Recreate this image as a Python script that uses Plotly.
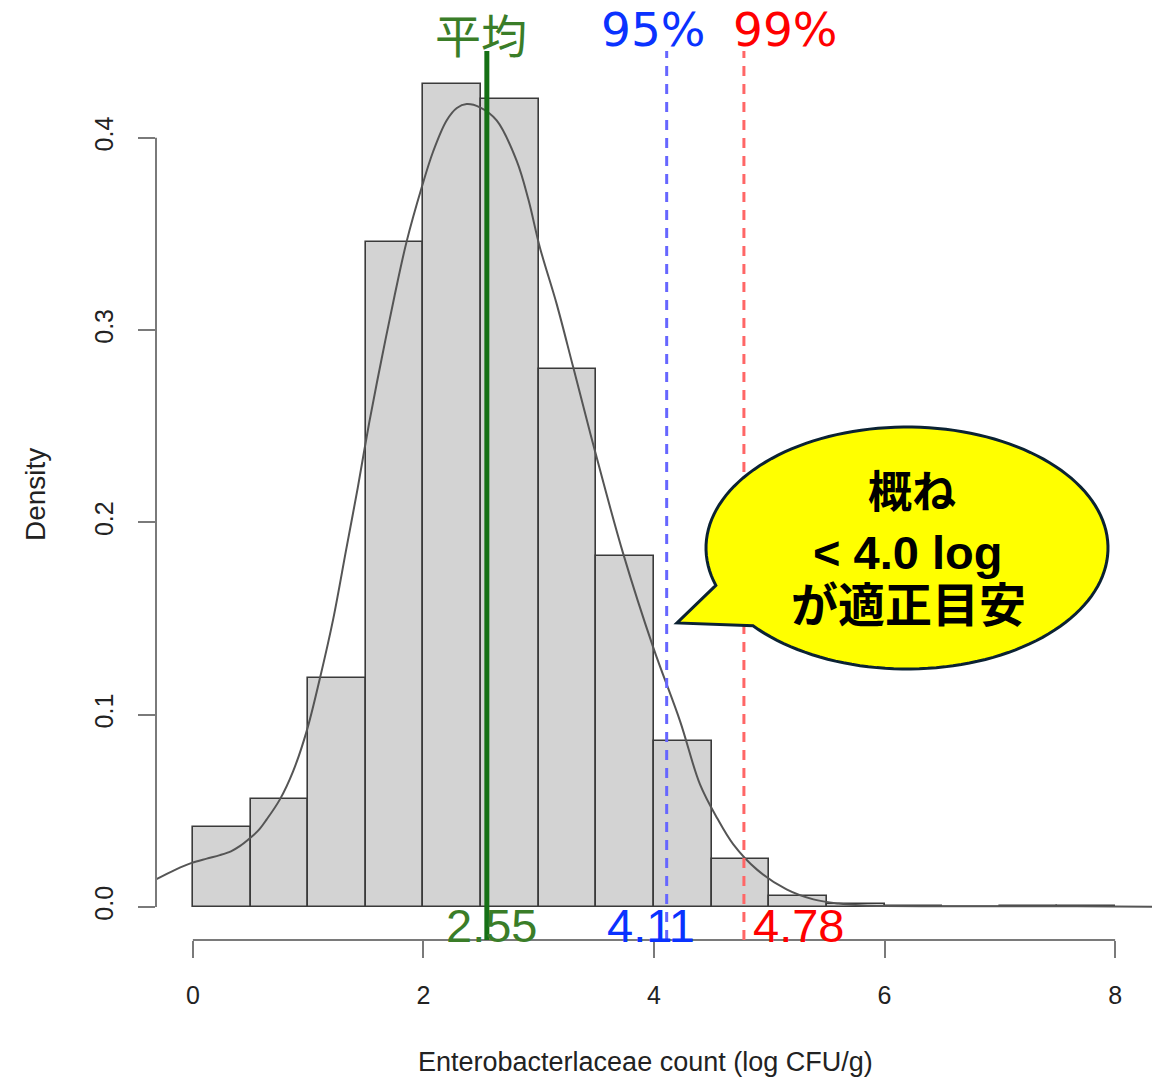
import numpy as np
import plotly.graph_objects as go

# Histogram of Enterobacteriaceae counts (density scale, 0.5 log-wide bins)
bin_edges = [0.0, 0.5, 1.0, 1.5, 2.0, 2.5, 3.0, 3.5, 4.0, 4.5, 5.0, 5.5, 6.0, 6.5, 7.0, 7.5, 8.0]
bin_density = [0.0416, 0.0562, 0.119, 0.346, 0.428, 0.420, 0.280, 0.1826,
               0.0863, 0.025, 0.0057, 0.0017, 0.0006, 0.0003, 0.0005, 0.0005]

# Kernel density estimate overlay
kde_x = [-0.32, -0.15, -0.01, 0.12, 0.234, 0.33, 0.41, 0.494, 0.57, 0.639, 0.755, 0.87, 0.987,
         1.102, 1.218, 1.33, 1.43, 1.53, 1.637, 1.75, 1.854, 1.984, 2.085, 2.201, 2.29, 2.375,
         2.49, 2.635, 2.809, 2.91, 3.01, 3.156, 3.30, 3.503, 3.734, 3.994, 4.226, 4.399,
         4.55, 4.688, 4.891, 5.15, 5.383, 5.6, 5.817, 6.0, 6.5, 7.0, 7.5, 8.0, 8.32]
kde_y = [0.0144, 0.0195, 0.023, 0.0252, 0.027, 0.0290, 0.0318, 0.0358, 0.0400, 0.0455, 0.056,
         0.0707, 0.0915, 0.119, 0.150, 0.186, 0.218, 0.252, 0.285, 0.318, 0.346, 0.374, 0.393,
         0.409, 0.4155, 0.4175, 0.4158, 0.409, 0.388, 0.368, 0.343, 0.3135, 0.2805, 0.2337,
         0.1835, 0.1349, 0.0967, 0.0638, 0.046, 0.0326, 0.0196, 0.0092, 0.0040, 0.0018,
         0.0008, 0.0005, 0.0004, 0.0004, 0.0004, 0.0003, 0.0002]

# Reference values
mean_value = 2.55
p95_value = 4.11
p99_value = 4.78

x_ticks = [0, 2, 4, 6, 8]
y_ticks = [0.0, 0.1, 0.2, 0.3, 0.4]
y_tick_text = ["0.0", "0.1", "0.2", "0.3", "0.4"]

edges = np.array(bin_edges)
bin_mid = (edges[:-1] + edges[1:]) / 2
bin_w = edges[1:] - edges[:-1]

W, H = 1165, 1081
ML, MR, MT, MB = 156, 13, 51, 141
PW, PH = W - ML - MR, H - MT - MB

def px_to_paper(x, y):
    return (x - ML) / PW, (H - MB - y) / PH

fig = go.Figure()
fig.add_trace(go.Bar(
    x=bin_mid, y=bin_density, width=bin_w,
    marker=dict(color="#d3d3d3", line=dict(color="#3a3a3a", width=1.6)),
    hoverinfo="skip",
))
fig.add_trace(go.Scatter(
    x=kde_x, y=kde_y, mode="lines",
    line=dict(color="#555555", width=2, shape="spline", smoothing=1.0),
    hoverinfo="skip",
))

shapes = []
# axis lines, R style (only across the tick range)
shapes.append(dict(type="line", xref="x", yref="paper", x0=0, x1=8, y0=0, y1=0,
                   line=dict(color="#7a7a7a", width=2)))
shapes.append(dict(type="line", xref="paper", yref="y", x0=0, x1=0, y0=0, y1=0.4,
                   line=dict(color="#7a7a7a", width=2)))
# reference lines
shapes.append(dict(type="line", xref="x", yref="paper", x0=p95_value, x1=p95_value, y0=0, y1=1,
                   line=dict(color="#6666ff", width=3, dash="10px,8px"), layer="above"))
shapes.append(dict(type="line", xref="x", yref="paper", x0=p99_value, x1=p99_value, y0=0, y1=1,
                   line=dict(color="#ff6666", width=3, dash="10px,8px"), layer="above"))
shapes.append(dict(type="line", xref="x", yref="paper", x0=mean_value, x1=mean_value, y0=0, y1=1,
                   line=dict(color="#157015", width=5), layer="above"))

# speech bubble
cx, cy, rx, ry = 907, 548, 201, 121
tip = (677, 623)
t = np.radians(np.linspace(162, 500, 140))
bx = cx + rx * np.cos(t)
by = cy + ry * np.sin(t)
pts = [px_to_paper(a, b) for a, b in zip(bx, by)]
pts.append(px_to_paper(*tip))
path = "M " + " L ".join(f"{p[0]:.5f},{p[1]:.5f}" for p in pts) + " Z"
shapes.append(dict(type="path", xref="paper", yref="paper", path=path,
                   fillcolor="#ffff00", line=dict(color="#0b2233", width=3), layer="above"))

ann = []
for txt, xv, shift, col, fam, size, ypx in [
        ("平均", mean_value, -6, "#3a7d28", "Noto Sans CJK JP", 46, 33),
        ("95%", p95_value, -14, "#0a32ff", "DejaVu Sans", 47, 29),
        ("99%", p99_value, 41, "#ff0000", "DejaVu Sans", 47, 29)]:
    ann.append(dict(x=xv, xref="x", y=px_to_paper(0, ypx)[1], yref="paper", text=txt,
                    showarrow=False, xshift=shift, xanchor="center", yanchor="middle",
                    font=dict(family=fam, size=size, color=col)))
bot_y = px_to_paper(0, 925)[1]
for txt, xv, shift, col in [(f"{mean_value:.2f}", mean_value, 5, "#3a7d28"),
                            (f"{p95_value:.2f}", p95_value, -16, "#0a32ff"),
                            (f"{p99_value:.2f}", p99_value, 55, "#ff0000")]:
    ann.append(dict(x=xv, xref="x", y=bot_y, yref="paper", text=txt, showarrow=False,
                    xshift=shift, xanchor="center", yanchor="middle",
                    font=dict(family="Liberation Sans", size=47, color=col)))

bubble_font = "Liberation Sans, Noto Sans CJK JP"
for txt, (x, y), size in [("<b>概ね</b>", (912, 492), 44), ("<b>< 4.0 log</b>", (907, 552), 47),
                          ("<b>が適正目安</b>", (908, 605), 47)]:
    px, py = px_to_paper(x, y)
    ann.append(dict(x=px, y=py, xref="paper", yref="paper", text=txt, showarrow=False,
                    xanchor="center", yanchor="middle",
                    font=dict(family=bubble_font, size=size, color="#000000")))

# axis titles
px, py = px_to_paper(35, 495)
ann.append(dict(x=px, y=py, xref="paper", yref="paper", text="Density", textangle=-90,
                xanchor="center", yanchor="middle", showarrow=False,
                font=dict(family="Liberation Sans", size=28, color="#222222")))
px, py = px_to_paper(645, 1062)
ann.append(dict(x=px, y=py, xref="paper", yref="paper", text="Enterobacterlaceae count (log CFU/g)",
                xanchor="center", yanchor="middle", showarrow=False,
                font=dict(family="Liberation Sans", size=27, color="#222222")))

fig.update_layout(
    width=W, height=H, margin=dict(l=ML, r=MR, t=MT, b=MB, autoexpand=False),
    plot_bgcolor="white", paper_bgcolor="white", showlegend=False, bargap=0,
    shapes=shapes, annotations=ann,
    xaxis=dict(range=[-0.32, 8.32], tickvals=x_ticks, ticks="outside", ticklen=17, tickwidth=2,
               tickcolor="#7a7a7a", showline=False, showgrid=False, zeroline=False,
               ticklabelstandoff=16,
               tickfont=dict(family="Liberation Sans", size=25, color="#222222")),
    yaxis=dict(range=[-0.01712, 0.44512], tickvals=y_ticks, ticktext=y_tick_text, ticks="outside",
               ticklen=17, tickwidth=2, tickcolor="#7a7a7a", showline=False, showgrid=False,
               zeroline=False, tickangle=-90, ticklabelstandoff=15,
               tickfont=dict(family="Liberation Sans", size=25, color="#222222")),
)

fig.write_html("out.html")
